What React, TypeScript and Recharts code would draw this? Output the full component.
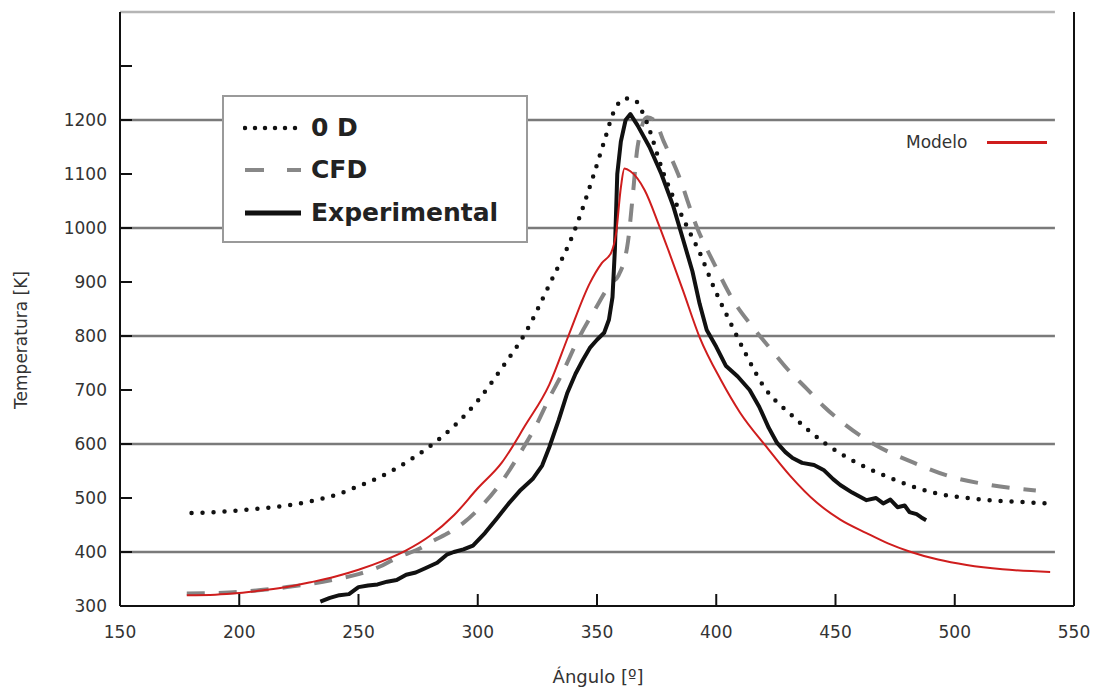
import React from 'react';
import { LineChart, Line, XAxis, YAxis, ReferenceLine } from 'recharts';

// temperatura [K] vs ángulo [º]
const OD_X = [180, 190, 200, 210, 220, 230, 240, 250, 260, 270, 280, 290, 300, 310, 320, 330, 341, 348, 353, 357, 362, 366, 370, 378, 388, 393, 399, 406, 412, 420, 432, 446, 456, 472, 491, 512, 530, 542];
const OD_T = [472, 474, 477, 481, 486, 494, 505, 522, 541, 566, 596, 633, 680, 740, 806, 895, 1000, 1090, 1160, 1215, 1240, 1236, 1205, 1100, 1000, 955, 890, 824, 770, 706, 652, 600, 572, 539, 510, 497, 492, 489];

const CFD_X = [178, 190, 200, 210, 220, 230, 240, 250, 260, 266, 275, 281, 288, 294, 300, 310, 318, 325, 330, 335, 342, 349, 356, 359, 363, 365, 367, 371, 374, 378, 384, 392, 399, 407, 415, 423, 430, 438, 445, 452, 466, 483, 498, 515, 534];
const CFD_T = [323, 324, 326, 330, 335, 341, 349, 359, 375, 389, 405, 420, 436, 454, 478, 530, 585, 639, 685, 727, 793, 848, 898, 912, 975, 1060, 1150, 1205, 1200, 1160, 1100, 1000, 935, 867, 818, 775, 738, 702, 670, 643, 600, 565, 540, 524, 514];

const EXP_X = [234, 238, 242, 246, 250, 254, 258, 262, 266, 270, 274, 278, 283, 287, 290, 294, 298, 303, 308, 313, 318, 323, 327, 330, 334, 337.5, 341, 344, 347, 350, 353, 355, 356.5, 357.5, 358.5, 360, 362, 364, 367, 372, 377, 382, 386, 390, 393, 396, 400, 404, 409, 414, 418, 422, 425.5, 429, 432, 436, 441, 445, 449, 452, 457, 463, 467, 470, 473, 476, 479, 481, 484, 486, 488];
const EXP_T = [308, 315, 320, 322, 335, 338, 340, 345, 348, 358, 362, 370, 380, 395, 400, 405, 412, 435, 462, 490, 515, 535, 560, 594, 645, 694, 730, 755, 778, 793, 806, 830, 872, 960, 1100, 1160, 1200, 1211, 1190, 1150, 1100, 1040, 980, 920, 860, 811, 780, 745, 725, 700, 669, 630, 602, 585, 574, 565, 561, 552, 535, 524, 510, 496, 500, 490, 497, 483, 486, 474, 470, 464, 459];

const MOD_X = [178, 190, 200, 210, 220, 230, 240, 250, 260, 270, 280, 290, 300, 310, 320, 330, 338, 347, 352, 356, 358, 360, 361.5, 364, 370, 376, 380, 386, 393, 402, 410, 421, 431, 442, 452, 463, 472, 481, 493, 505, 520, 540];
const MOD_T = [320, 321, 324, 329, 335, 344, 354, 367, 383, 403, 430, 468, 518, 565, 635, 710, 800, 898, 935, 955, 990, 1075, 1110, 1105, 1070, 1005, 958, 885, 798, 718, 658, 595, 541, 492, 460, 435, 416, 401, 386, 376, 368, 363];

const X_TICKS = [150, 200, 250, 300, 350, 400, 450, 500, 550];
const Y_TICKS = [300, 400, 500, 600, 700, 800, 900, 1000, 1100, 1200, 1300];
const GRID_Y = [400, 600, 800, 1000, 1200];

const zip = (xs: number[], ys: number[]) => xs.map((x, i) => ({ x, y: ys[i] }));

const od = zip(OD_X, OD_T);
const cfd = zip(CFD_X, CFD_T);
const exp = zip(EXP_X, EXP_T);
const modelo = zip(MOD_X, MOD_T);

const FONT = '"DejaVu Sans", Verdana, sans-serif';
const tickStyle = { fontSize: 17, fill: '#333', fontFamily: FONT };

const App: React.FC = () => {
  return (
    <div style={{ position: 'absolute', left: 0, top: 0, width: 1102, height: 689, background: '#fff', fontFamily: FONT }}>
      <LineChart width={1102} height={689} margin={{ top: 12, right: 18, bottom: 53, left: 60 }}>
        <XAxis
          dataKey="x"
          type="number"
          domain={[150, 550]}
          ticks={X_TICKS}
          allowDataOverflow
          tick={tickStyle}
          tickSize={-12}
          tickMargin={32}
          stroke="#111"
          strokeWidth={2}
        />
        <YAxis
          yAxisId="l"
          type="number"
          domain={[300, 1400]}
          ticks={Y_TICKS}
          allowDataOverflow
          width={60}
          tick={tickStyle}
          tickFormatter={(v: number) => (v > 1200 ? '' : String(v))}
          tickSize={-12}
          tickMargin={25}
          stroke="#111"
          strokeWidth={2}
        />
        <YAxis
          yAxisId="r"
          orientation="right"
          type="number"
          domain={[300, 1400]}
          ticks={Y_TICKS}
          allowDataOverflow
          width={10}
          tick={false}
          tickSize={-12}
          stroke="#111"
          strokeWidth={2}
        />
        {GRID_Y.map((v) => (
          <ReferenceLine
            key={v}
            yAxisId="l"
            segment={[{ x: 150, y: v }, { x: 542, y: v }]}
            stroke="#7a7a7a"
            strokeWidth={2.5}
          />
        ))}
        <ReferenceLine
          yAxisId="l"
          segment={[{ x: 150, y: 1400 }, { x: 542, y: 1400 }]}
          stroke="#b5b5b5"
          strokeWidth={2.5}
        />
        <Line
          yAxisId="l"
          data={cfd}
          dataKey="y"
          type="monotone"
          stroke="#858585"
          strokeWidth={4}
          strokeDasharray="18 14"
          dot={false}
          activeDot={false}
          isAnimationActive={false}
        />
        <Line
          yAxisId="l"
          data={od}
          dataKey="y"
          type="monotone"
          stroke="#111"
          strokeWidth={4.5}
          strokeLinecap="round"
          strokeDasharray="0 11"
          dot={false}
          activeDot={false}
          isAnimationActive={false}
        />
        <Line
          yAxisId="l"
          data={exp}
          dataKey="y"
          type="linear"
          stroke="#111"
          strokeWidth={4}
          strokeLinejoin="round"
          dot={false}
          activeDot={false}
          isAnimationActive={false}
        />
        <Line
          yAxisId="r"
          data={modelo}
          dataKey="y"
          type="monotone"
          stroke="#cf1d1d"
          strokeWidth={2}
          dot={false}
          activeDot={false}
          isAnimationActive={false}
        />
      </LineChart>

      {/* legend box, upper left */}
      <div
        style={{
          position: 'absolute',
          left: 222,
          top: 95,
          width: 302,
          height: 144,
          border: '2px solid #9a9a9a',
          background: '#fff',
        }}
      >
        {[
          { label: '0 D', top: 16, dash: '0 10', color: '#111', w: 4.5, cap: 'round' },
          { label: 'CFD', top: 58, dash: '19 23', color: '#888', w: 4, cap: 'butt' },
          { label: 'Experimental', top: 101, dash: undefined, color: '#111', w: 5, cap: 'butt' },
        ].map((r) => (
          <div key={r.label} style={{ position: 'absolute', left: 0, top: r.top, height: 30, width: 300 }}>
            <svg width={80} height={30} style={{ position: 'absolute', left: 19, top: 0 }}>
              <line
                x1={2}
                x2={58}
                y1={15}
                y2={15}
                stroke={r.color}
                strokeWidth={r.w}
                strokeDasharray={r.dash}
                strokeLinecap={r.cap as 'round' | 'butt'}
              />
            </svg>
            <span
              style={{
                position: 'absolute',
                left: 87,
                top: 0,
                lineHeight: '30px',
                fontSize: 25,
                fontWeight: 'bold',
                color: '#222',
                whiteSpace: 'nowrap',
              }}
            >
              {r.label}
            </span>
          </div>
        ))}
      </div>

      {/* Modelo key, right */}
      <div style={{ position: 'absolute', left: 906, top: 130, height: 24, display: 'flex', alignItems: 'center' }}>
        <span style={{ fontSize: 17, color: '#333' }}>Modelo</span>
        <div style={{ width: 60, height: 3, background: '#cf1d1d', marginLeft: 20 }} />
      </div>

      <div
        style={{
          position: 'absolute',
          left: 598,
          top: 676,
          transform: 'translate(-50%, -50%)',
          fontSize: 18,
          color: '#333',
          whiteSpace: 'nowrap',
        }}
      >
        Ángulo [º]
      </div>
      <div
        style={{
          position: 'absolute',
          left: 21,
          top: 340,
          transform: 'translate(-50%, -50%) rotate(-90deg)',
          fontSize: 17,
          color: '#333',
          whiteSpace: 'nowrap',
        }}
      >
        Temperatura [K]
      </div>
    </div>
  );
};

export default App;
